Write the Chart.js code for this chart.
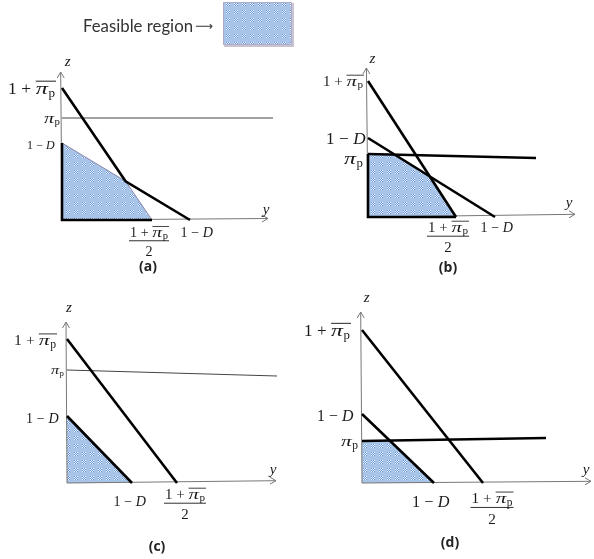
<!DOCTYPE html>
<html>
<head>
<meta charset="utf-8">
<script src="https://cdn.jsdelivr.net/npm/chart.js@4.4.1/dist/chart.umd.min.js"></script>
<style>
body { margin: 0; background: #fff; }
#wrap { position: relative; width: 594px; height: 559px; }
canvas { position: absolute; }
</style>
</head>
<body>
<div id="wrap">
<canvas id="p0"></canvas>
<canvas id="p1"></canvas>
<canvas id="p2"></canvas>
<canvas id="p3"></canvas>
</div>
<script>
const panelNames = ['(a)', '(b)', '(c)', '(d)'];

// intercepts, in schematic units (about one unit per pixel)
const zOnePlusPi = [132, 136, 144, 153];     // 1 + pi_p bar, on the z axis
const zOneMinusD = [77, 79, 67, 69];         // 1 - D, on the z axis
const yHalfOnePlusPi = [90, 88, 110, 121];   // (1 + pi_p bar)/2, on the y axis
const yOneMinusD = [128, 127, 65, 72];       // 1 - D, on the y axis
const zPiStart = [102, 63, 113, 42];         // pi_p line where it leaves the z axis
const zPiEnd = [102, 59, 107, 45];           // ... and at its right end
const yPiEnd = [211, 168, 210, 184];
const zAxisTip = [[-1.3, 148], [-1.6, 149], [-1, 161], [-1.3, 171]];
const yAxisTip = [[206, 1.5], [207, 2.7], [209, 2.3], [229, 1.7]];

// where each panel sits on the page
const boxes = [
  { left: 0, top: 0, w: 297, h: 280, ox: 62, oy: 220 },
  { left: 297, top: 0, w: 297, h: 280, ox: 368, oy: 217 },
  { left: 0, top: 290, w: 297, h: 269, ox: 67, oy: 483 },
  { left: 297, top: 290, w: 297, h: 269, ox: 362, oy: 483 }
];
const heavyOuterOnly = [true, false, false, false];
const heavyPi = [false, true, false, true];
const heavyEdges = [true, true, false, false];

// label widths / nudges (pixels)
const lab = [
  { top: [47, 7, 0], pi: [16, 2, 0], dd: [28, 7, 2], frac: [38, -3, 12], bd: [33, 7, 12], zl: [7, -10], yl: [-2, -8], cap: [148, 267] },
  { top: [40, 5, 0], pi: [19, 5, 4], dd: [40, 2, 0], frac: [40, -8, 10], bd: [33, 2, 10], zl: [6, -9], yl: [-6, -11], cap: [448, 268] },
  { top: [42, 11, 1], pi: [13, 3, 0], dd: [33, 8, 2], frac: [40, 8, 11], bd: [33, -2, 18], zl: [3, -14], yl: [-3, -11], cap: [157, 547] },
  { top: [46, 12, 0], pi: [17, 4, 0], dd: [37, 8, 2], frac: [41, 9, 15], bd: [38, -3, 19], zl: [6, -14], yl: [-5, -11], cap: [450, 543] }
];

const SERIF = '"Liberation Serif", "DejaVu Serif", serif';
const INK = '#1a1a1a';

function makePattern(ctx) {
  const c = document.createElement('canvas');
  c.width = 8; c.height = 8;
  const g = c.getContext('2d');
  g.fillStyle = '#a8c4e8';
  g.fillRect(0, 0, 8, 8);
  for (let i = 0; i < 4; i++) {
    for (let j = 0; j < 4; j++) {
      g.fillStyle = (i + j) % 2 ? '#f3f7fd' : '#6394d4';
      g.fillRect(2 + i, 2 + j, 1, 1);
    }
  }
  return ctx.createPattern(c, 'repeat');
}

function pieces(kind) {
  if (kind === 'top') return [{ t: '1' }, { t: '+', op: true }, { t: 'π', it: true, sx: 1.4, bar: true }, { t: 'p', sub: true, bar: true }];
  if (kind === 'dd') return [{ t: '1' }, { t: '−', op: true }, { t: 'D', it: true }];
  return [{ t: 'π', it: true, sx: 1.4 }, { t: 'p', sub: true }];
}

function layout(ctx, kind, size) {
  let w = 0;
  const parts = [];
  for (const p of pieces(kind)) {
    const fs = p.sub ? size * 0.75 : size;
    const font = (p.it ? 'italic ' : '') + fs + 'px ' + SERIF;
    ctx.font = font;
    const sx = p.sx || 1;
    const tw = ctx.measureText(p.t).width * sx;
    const pad = p.op ? size * 0.26 : 0;
    parts.push(Object.assign({ font: font, x: w + pad, w: tw, sx: sx, dy: p.sub ? size * 0.17 : 0 }, p));
    w += tw + 2 * pad;
    if (p.it) w += size * 0.03;
  }
  return { parts: parts, w: w };
}

// draw a small formula scaled to a given width; returns the font size used
function drawMath(ctx, kind, x, y, width, align) {
  const size = 16 * width / layout(ctx, kind, 16).w;
  const m = layout(ctx, kind, size);
  const x0 = align === 'right' ? x - m.w : align === 'center' ? x - m.w / 2 : x;
  const base = y + size * 0.33;
  ctx.fillStyle = INK;
  ctx.textAlign = 'left';
  ctx.textBaseline = 'alphabetic';
  let bl = null, br = null;
  for (const p of m.parts) {
    ctx.font = p.font;
    ctx.save();
    ctx.translate(x0 + p.x, base + p.dy);
    ctx.scale(p.sx || 1, 1);
    ctx.fillText(p.t, 0, 0);
    ctx.restore();
    if (p.bar) {
      if (bl === null) bl = x0 + p.x;
      br = x0 + p.x + p.w;
    }
  }
  if (bl !== null) {
    const by = base - size * 0.72;
    ctx.strokeStyle = INK;
    ctx.lineWidth = Math.max(0.8, size / 18);
    ctx.beginPath();
    ctx.moveTo(bl, by);
    ctx.lineTo(br + 1, by);
    ctx.stroke();
  }
  return size;
}

function drawFrac(ctx, cx, cy, width) {
  const size = drawMath(ctx, 'top', cx, cy, width, 'center');
  const by = cy + size * 0.62;
  ctx.strokeStyle = INK;
  ctx.lineWidth = 0.9;
  ctx.beginPath();
  ctx.moveTo(cx - width / 2 - 1, by);
  ctx.lineTo(cx + width / 2 + 1, by);
  ctx.stroke();
  ctx.font = size + 'px ' + SERIF;
  ctx.textAlign = 'center';
  ctx.fillStyle = INK;
  ctx.fillText('2', cx, cy + size * 1.35 + size * 0.33);
}

function seg(data, color, width, order) {
  return { data: data, borderColor: color, borderWidth: width, pointRadius: 0, fill: false, clip: false, tension: 0, order: order };
}

function buildPanel(i) {
  const b = boxes[i], s = lab[i];
  const cv = document.getElementById('p' + i);
  cv.width = b.w; cv.height = b.h;
  cv.style.left = b.left + 'px';
  cv.style.top = b.top + 'px';
  const padL = b.ox - b.left, padB = b.top + b.h - b.oy;

  const steep = x => zOnePlusPi[i] * (1 - x / yHalfOnePlusPi[i]);
  const shallow = x => zOneMinusD[i] * (1 - x / yOneMinusD[i]);
  const piLine = x => zPiStart[i] + (zPiEnd[i] - zPiStart[i]) * x / yPiEnd[i];
  const cross = (f, g) => { const d0 = f(0) - g(0), d1 = f(1) - g(1); return d0 / (d0 - d1); };

  // feasible region: below all three constraints
  const xEnd = Math.min(yHalfOnePlusPi[i], yOneMinusD[i]);
  const low = x => Math.min(steep(x), shallow(x), piLine(x));
  const xs = [0, xEnd, cross(steep, shallow), cross(steep, piLine), cross(shallow, piLine)]
    .filter(x => isFinite(x) && x >= 0 && x <= xEnd).sort((a, c) => a - c);
  const region = xs.map(x => ({ x: x, y: Math.max(0, low(x)) }));

  const pattern = makePattern(cv.getContext('2d'));
  const datasets = [];
  datasets.push(Object.assign(seg(region, '#8a86aa', 1, 10), { fill: 'origin', backgroundColor: pattern }));
  datasets.push(seg([{ x: 0, y: 0 }, { x: zAxisTip[i][0], y: zAxisTip[i][1] }], '#777', 1, 8));
  datasets.push(seg([{ x: 0, y: 0 }, { x: yAxisTip[i][0], y: yAxisTip[i][1] }], '#777', 1, 8));
  if (heavyEdges[i]) {
    datasets.push(seg([{ x: 0, y: region[0].y }, { x: 0, y: 0 }, { x: xEnd, y: 0 }], '#000', 2.6, 2));
  }
  datasets.push(seg([{ x: 0, y: zPiStart[i] }, { x: yPiEnd[i], y: zPiEnd[i] }], heavyPi[i] ? '#000' : '#444', heavyPi[i] ? 2.6 : 1, 3));
  if (heavyOuterOnly[i]) {
    const xc = cross(steep, shallow);
    datasets.push(seg([{ x: 0, y: zOnePlusPi[i] }, { x: xc, y: steep(xc) }, { x: yOneMinusD[i], y: 0 }], '#000', 2.6, 1));
  } else {
    datasets.push(seg([{ x: 0, y: zOnePlusPi[i] }, { x: yHalfOnePlusPi[i], y: 0 }], '#000', 2.6, 1));
    datasets.push(seg([{ x: 0, y: zOneMinusD[i] }, { x: yOneMinusD[i], y: 0 }], '#000', 2.6, 1));
  }

  const decor = {
    id: 'decor' + i,
    afterDatasetsDraw(chart) {
      const ctx = chart.ctx;
      const X = v => chart.scales.x.getPixelForValue(v);
      const Y = v => chart.scales.y.getPixelForValue(v);
      ctx.save();
      // arrow heads
      ctx.strokeStyle = '#777';
      ctx.lineWidth = 1;
      const zx = X(zAxisTip[i][0]), zy = Y(zAxisTip[i][1]);
      const yx = X(yAxisTip[i][0]), yy = Y(yAxisTip[i][1]);
      ctx.beginPath();
      ctx.moveTo(zx - 3.5, zy + 6); ctx.lineTo(zx, zy); ctx.lineTo(zx + 3.5, zy + 6);
      ctx.moveTo(yx - 6, yy - 3.5); ctx.lineTo(yx, yy); ctx.lineTo(yx - 6, yy + 3.5);
      ctx.stroke();
      // axis names
      ctx.fillStyle = INK;
      ctx.font = 'italic 15px ' + SERIF;
      ctx.textAlign = 'center';
      ctx.textBaseline = 'middle';
      ctx.fillText('z', zx + s.zl[0], zy + s.zl[1]);
      ctx.fillText('y', yx + s.yl[0], yy + s.yl[1]);
      // z-axis labels
      const x0 = X(0);
      drawMath(ctx, 'top', x0 - s.top[1], Y(zOnePlusPi[i]) + s.top[2], s.top[0], 'right');
      drawMath(ctx, 'pi', x0 - s.pi[1], Y(zPiStart[i]) + s.pi[2], s.pi[0], 'right');
      drawMath(ctx, 'dd', x0 - s.dd[1], Y(zOneMinusD[i]) + s.dd[2], s.dd[0], 'right');
      // y-axis labels
      drawFrac(ctx, X(yHalfOnePlusPi[i]) + s.frac[1], Y(0) + s.frac[2], s.frac[0]);
      drawMath(ctx, 'dd', X(yOneMinusD[i]) + s.bd[1], Y(0) + s.bd[2], s.bd[0], 'center');
      // caption
      ctx.font = 'bold 14px "Open Sans", "Liberation Sans", sans-serif';
      ctx.fillStyle = '#222';
      ctx.textAlign = 'center';
      ctx.textBaseline = 'middle';
      ctx.fillText(panelNames[i], s.cap[0] - b.left, s.cap[1] - b.top);
      if (i === 0) {
        ctx.font = '16.8px Lato, "Open Sans", sans-serif';
        ctx.fillStyle = '#333';
        ctx.textAlign = 'left';
        ctx.fillText('Feasible region', 83, 27);
        ctx.font = '12.5px "DejaVu Sans", sans-serif';
        ctx.fillText('⟶', 195, 27);
        ctx.fillStyle = '#c8c4d0';
        ctx.fillRect(224, 3, 70, 44);
        ctx.fillStyle = pattern;
        ctx.fillRect(223, 2, 69, 43);
        ctx.strokeStyle = '#b4a6c6';
        ctx.strokeRect(223.5, 2.5, 68, 42);
      }
      ctx.restore();
    }
  };

  return new Chart(cv, {
    type: 'line',
    data: { datasets: datasets },
    options: {
      responsive: false,
      animation: false,
      devicePixelRatio: 1,
      layout: { padding: { left: padL, right: 0, top: 0, bottom: padB } },
      scales: {
        x: { type: 'linear', display: false, min: 0, max: b.w - padL },
        y: { type: 'linear', display: false, min: 0, max: b.oy - b.top }
      },
      plugins: { legend: { display: false }, tooltip: { enabled: false } }
    },
    plugins: [decor]
  });
}

for (let i = 0; i < 4; i++) buildPanel(i);
</script>
</body>
</html>
